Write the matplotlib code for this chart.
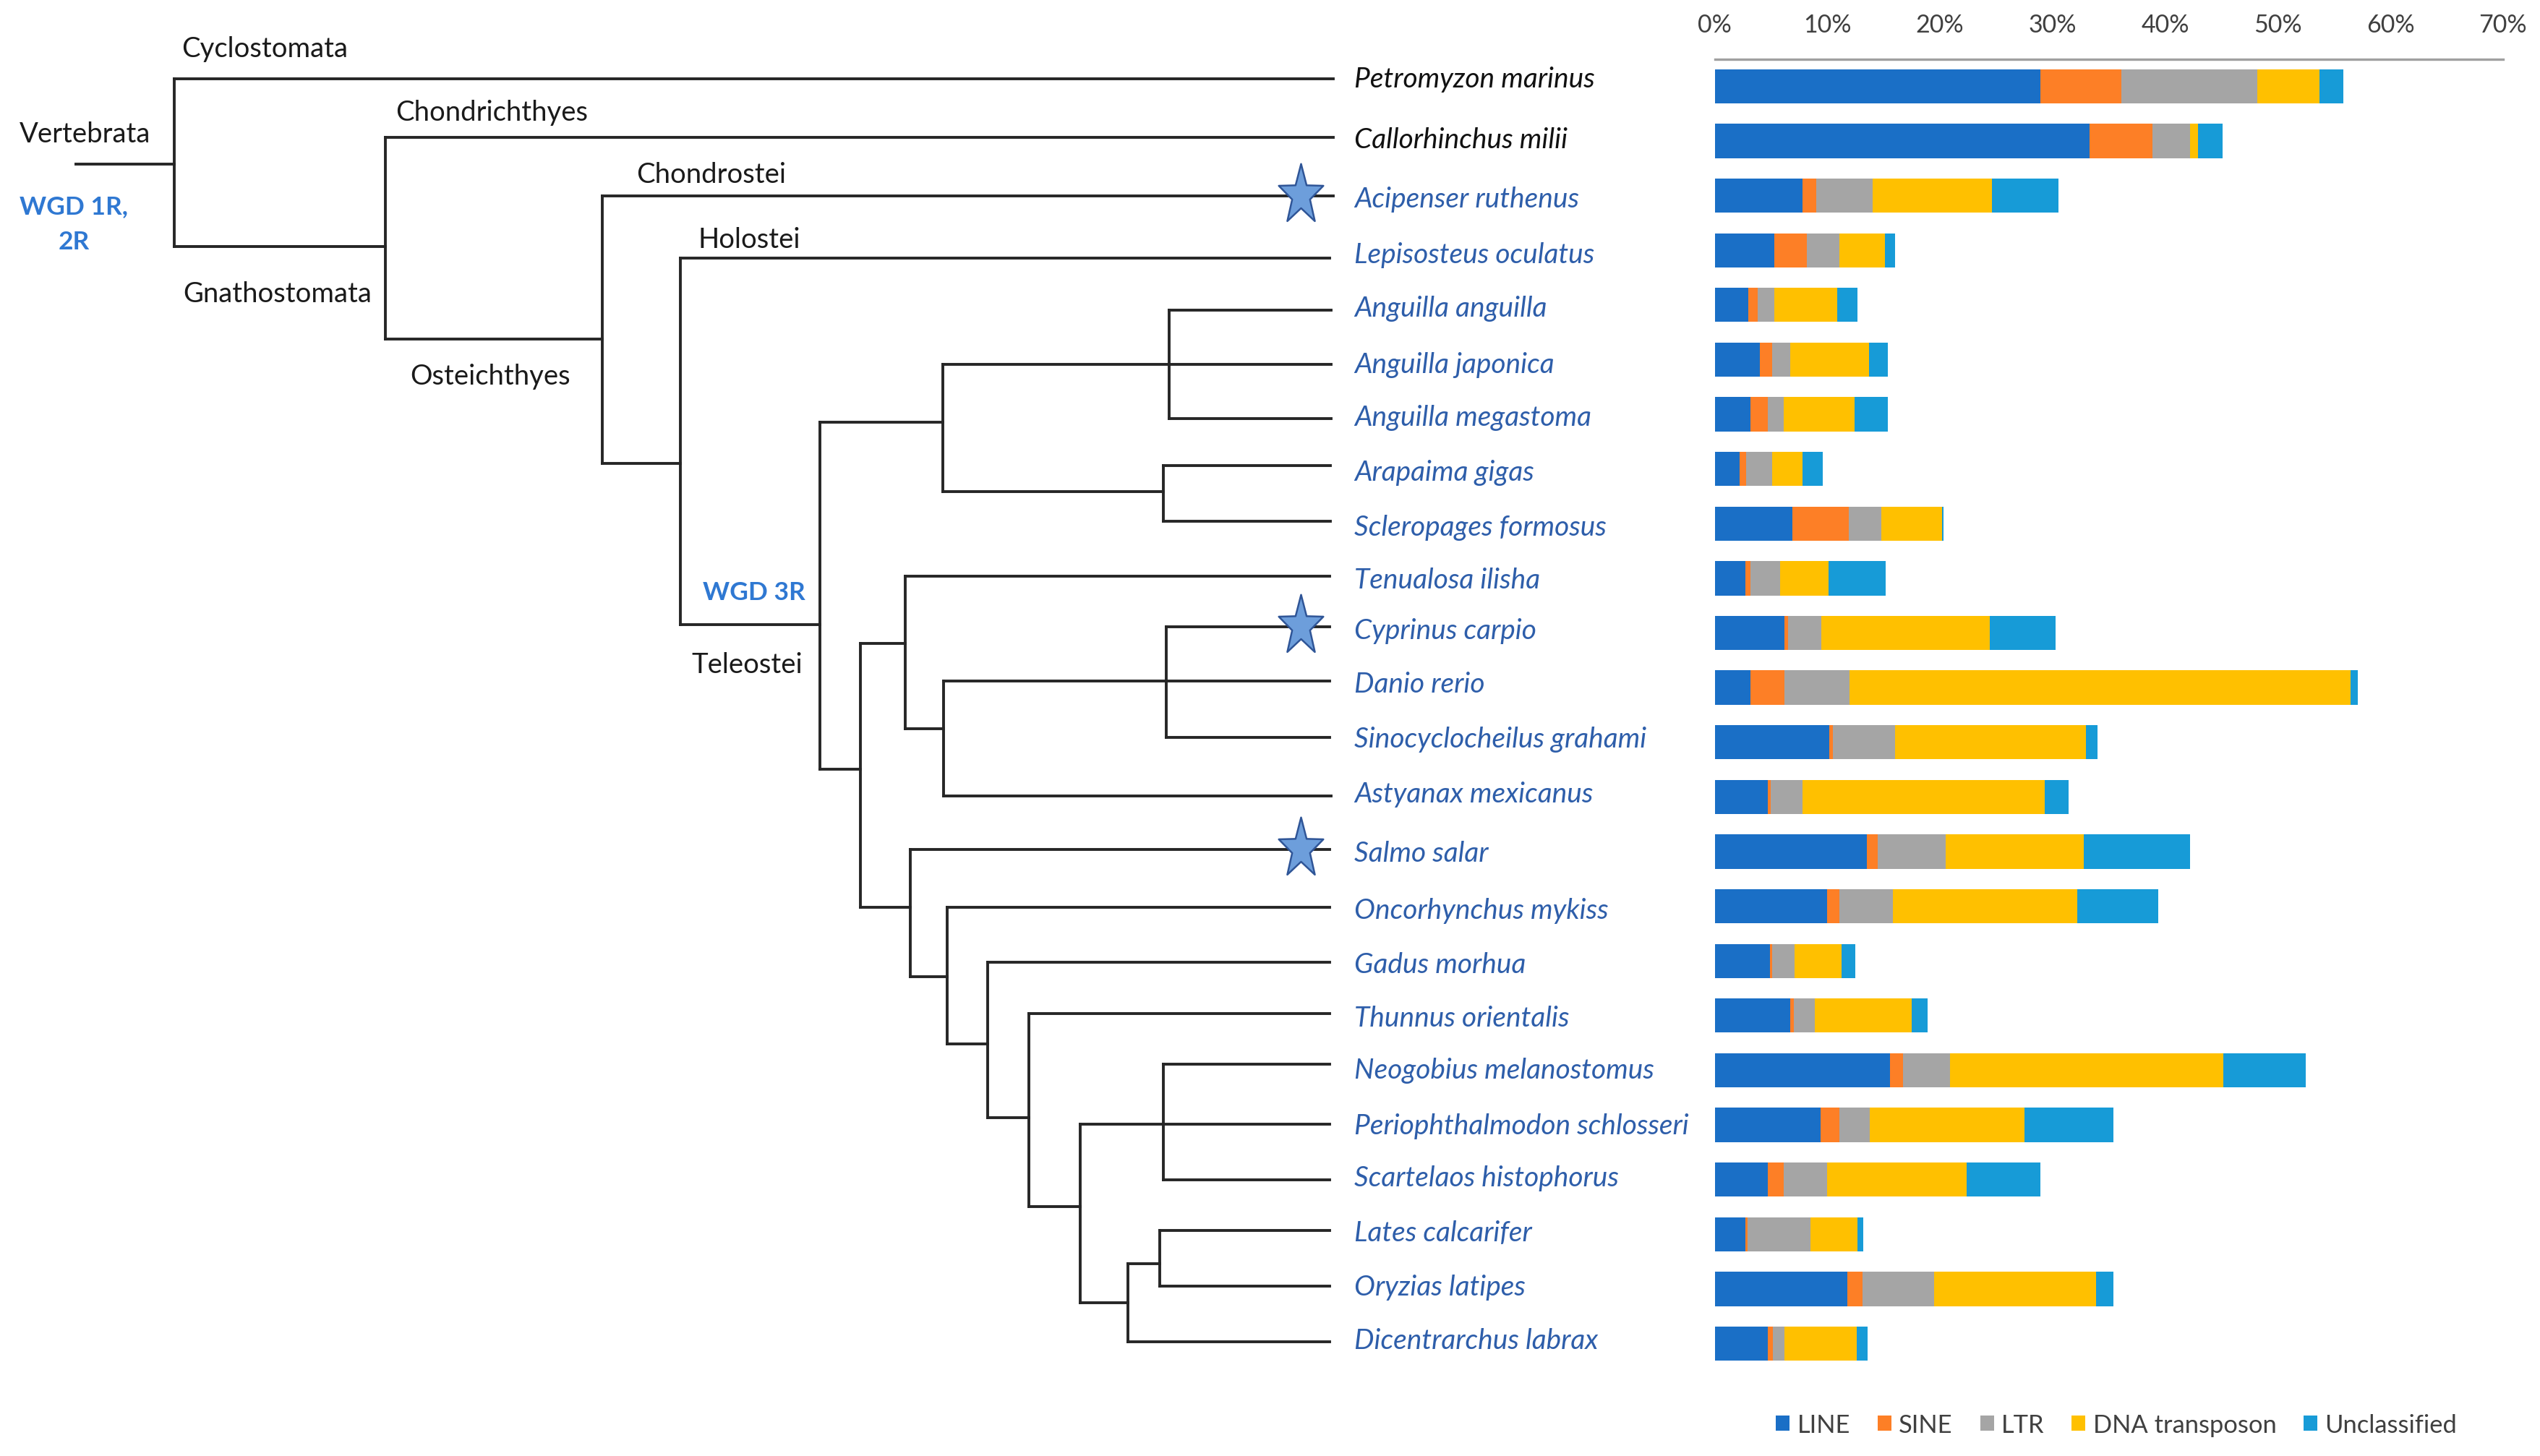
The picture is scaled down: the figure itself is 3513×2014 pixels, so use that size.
import numpy as np
import matplotlib.pyplot as plt
from matplotlib.path import Path

plt.rcParams['font.family'] = ['Lato', 'DejaVu Sans']

# repeat content (% of genome) per species
species = ['Petromyzon marinus', 'Callorhinchus milii', 'Acipenser ruthenus',
           'Lepisosteus oculatus', 'Anguilla anguilla', 'Anguilla japonica',
           'Anguilla megastoma', 'Arapaima gigas', 'Scleropages formosus',
           'Tenualosa ilisha', 'Cyprinus carpio', 'Danio rerio',
           'Sinocyclocheilus grahami', 'Astyanax mexicanus', 'Salmo salar',
           'Oncorhynchus mykiss', 'Gadus morhua', 'Thunnus orientalis',
           'Neogobius melanostomus', 'Periophthalmodon schlosseri',
           'Scartelaos histophorus', 'Lates calcarifer', 'Oryzias latipes',
           'Dicentrarchus labrax']
line_pct = [28.9, 33.3, 7.8, 5.3, 3.0, 4.0, 3.2, 2.2, 6.9, 2.7, 6.2, 3.2,
            10.2, 4.7, 13.5, 10.0, 4.9, 6.7, 15.6, 9.4, 4.7, 2.7, 11.8, 4.7]
sine_pct = [7.2, 5.6, 1.2, 2.9, 0.8, 1.1, 1.5, 0.6, 5.0, 0.5, 0.3, 3.0,
            0.3, 0.3, 1.0, 1.1, 0.2, 0.3, 1.1, 1.7, 1.4, 0.2, 1.3, 0.5]
ltr_pct = [12.1, 3.3, 5.0, 2.9, 1.5, 1.6, 1.4, 2.3, 2.9, 2.6, 3.0, 5.8,
           5.5, 2.8, 6.0, 4.7, 2.0, 1.9, 4.2, 2.7, 3.9, 5.6, 6.4, 1.0]
dna_pct = [5.5, 0.7, 10.6, 4.0, 5.6, 7.0, 6.3, 2.7, 5.4, 4.3, 14.9, 44.5,
           17.0, 21.5, 12.3, 16.4, 4.2, 8.6, 24.3, 13.7, 12.4, 4.2, 14.4, 6.4]
uncl_pct = [2.1, 2.2, 5.9, 0.9, 1.8, 1.7, 3.0, 1.8, 0.1, 5.1, 5.9, 0.6,
            1.0, 2.1, 9.4, 7.2, 1.2, 1.4, 7.3, 7.9, 6.5, 0.5, 1.5, 1.0]
classes = ['LINE', 'SINE', 'LTR', 'DNA transposon', 'Unclassified']
colors = ['#1A6FC6', '#FD7F26', '#A5A5A5', '#FFC000', '#179BD7']
ticks = [0, 10, 20, 30, 40, 50, 60, 70]
tick_labels = ['0%', '10%', '20%', '30%', '40%', '50%', '60%', '70%']
starred = ['Acipenser ruthenus', 'Cyprinus carpio', 'Salmo salar']

# layout units: reference pixels / S
S = 2.2405
W, H = 3513 / S, 2015 / S

# tip heights of the tree, one per species
tip_y = [48.9, 85.4, 121.6, 159.8, 191.9, 225.4, 258.9, 288, 322.3, 356,
         387.5, 421, 455.7, 492, 525, 560.6, 594.4, 626.3, 657.3, 694.3,
         729, 760, 794.5, 829]
label_y = [49, 86.5, 123, 157.5, 190.5, 225.5, 258, 292, 326, 358.5,
           389.5, 422.5, 456.5, 490.5, 527, 562.5, 596, 629, 661, 695.5,
           727.5, 761.5, 795, 828]

# tree branches: horizontal (y, x0, x1) and vertical (x, y0, y1)
hseg = [(101.8, 47, 107.5), (48.9, 107.5, 823), (152.6, 107.5, 238),
        (85.4, 238, 823), (209.8, 238, 372), (121.6, 372, 823),
        (286.6, 372, 420), (159.8, 420, 821), (386, 420, 506.3),
        (261.2, 506.3, 582), (191.9, 721.5, 821.7), (225.4, 582, 821.7),
        (258.9, 721.5, 821.7), (303.8, 582, 718.3), (288, 718.3, 821.3),
        (322.3, 718.3, 821.3), (475.3, 506.3, 531.3), (397.7, 531.3, 559),
        (356, 559, 821), (450.2, 559, 582.5), (421, 582.5, 821),
        (387.5, 720, 821), (455.7, 720, 821), (492, 582.5, 821.7),
        (560.6, 531.3, 562), (525, 562, 821), (603.3, 562, 584.7),
        (560.6, 584.7, 821), (645, 584.7, 609.8), (594.4, 609.8, 821),
        (690.3, 609.8, 635), (626.3, 635, 821), (745.4, 635, 666.8),
        (694.3, 666.8, 821), (657.3, 718, 821), (729, 718, 821),
        (804.8, 666.8, 696.3), (780.7, 696.3, 715.7), (760, 715.7, 821),
        (794.5, 715.7, 821), (829, 696.3, 821)]
vseg = [(107.5, 48.9, 152.6), (238, 85.4, 209.8), (372, 121.6, 286.6),
        (420, 159.8, 386), (506.3, 261.2, 475.3), (582, 225.4, 303.8),
        (721.5, 191.9, 258.9), (718.3, 288, 322.3), (531.3, 397.7, 560.6),
        (559, 356, 450.2), (582.5, 421, 492), (720, 387.5, 455.7),
        (562, 525, 603.3), (584.7, 560.6, 645), (609.8, 594.4, 690.3),
        (635, 626.3, 745.4), (666.8, 694.3, 804.8), (718, 657.3, 729),
        (696.3, 780.7, 829), (715.7, 760, 794.5)]

clades = [('Vertebrata', 12, 83), ('Cyclostomata', 112, 30.5),
          ('Chondrichthyes', 244, 69.7), ('Chondrostei', 393, 108),
          ('Holostei', 431, 148), ('Gnathostomata', 113, 181.6),
          ('Osteichthyes', 253, 232.5), ('Teleostei', 427, 410.6)]

fig = plt.figure(figsize=(35.13, 20.15), dpi=100)
tree = fig.add_axes([0, 0, 1, 1])
tree.set_xlim(0, W)
tree.set_ylim(H, 0)
tree.axis('off')

lk = dict(color='#262626', lw=2.8, solid_capstyle='projecting')
for y, x0, x1 in hseg:
    tree.plot([x0, x1], [y, y], **lk)
for x, y0, y1 in vseg:
    tree.plot([x, x], [y0, y1], **lk)

for name, x, y in clades:
    tree.text(x, y, name, fontsize=27.5, color='#1a1a1a', va='center', ha='left')
wgd = '#2F78D2'
tree.text(45.5, 127.6, 'WGD 1R,', fontsize=25.5, color=wgd, weight='bold', ha='center', va='center')
tree.text(45.5, 149.5, '2R', fontsize=25.5, color=wgd, weight='bold', ha='center', va='center')
tree.text(434, 366, 'WGD 3R', fontsize=25.5, color=wgd, weight='bold', ha='left', va='center')

for i, (name, y) in enumerate(zip(species, label_y)):
    c = '#111111' if i < 2 else '#2E5EAA'
    tree.text(836, y, name, fontsize=28, style='italic', color=c, va='center', ha='left')

# stretched five-point star like the drawn shape
ang = np.pi / 2 + np.arange(10) * np.pi / 5
rad = np.where(np.arange(10) % 2 == 0, 1.0, 0.4)
pts = np.c_[rad * np.cos(ang), 1.35 * rad * np.sin(ang)]
pts = np.vstack([pts, pts[0]])
star = Path(pts, [Path.MOVETO] + [Path.LINETO] * 9 + [Path.CLOSEPOLY])
for name in starred:
    y = tip_y[species.index(name)]
    tree.plot(803, y - 0.5, marker=star, markersize=63, color='#6D9EDB',
              markeredgecolor='#2F5597', markeredgewidth=1.8, zorder=5)

# bar chart
x0u, x1u, top = 2371.5 / S, 3461.7 / S, 37.2
ax = fig.add_axes([x0u / W, 0, (x1u - x0u) / W, 1 - top / H])
ax.set_xlim(0, 70)
ax.set_ylim(H, top)
bar_y = 53.7 + 33.75 * np.arange(len(species))
left = np.zeros(len(species))
handles = []
for vals, lab, col in zip([line_pct, sine_pct, ltr_pct, dna_pct, uncl_pct], classes, colors):
    vals = np.array(vals)
    b = ax.barh(bar_y, vals, left=left, height=21.1, color=col, label=lab)
    handles.append(b)
    left += vals

for sp in ['left', 'right', 'bottom']:
    ax.spines[sp].set_visible(False)
ax.spines['top'].set_color('#A0A0A0')
ax.spines['top'].set_linewidth(2.4)
ax.set_yticks([])
ax.set_xticks(ticks)
ax.set_xticklabels(tick_labels)
ax.xaxis.tick_top()
ax.tick_params(axis='x', length=0, pad=23, labelsize=24.5, labelcolor='#404040')
ax.patch.set_alpha(0)

ax.legend(handles, classes, loc='center', bbox_to_anchor=(0.8333, 0.0215),
          bbox_transform=fig.transFigure, ncol=5, frameon=False, fontsize=24.8,
          handlelength=0.55, handleheight=0.55, handletextpad=0.3,
          columnspacing=1.1, labelcolor='#404040')

fig.savefig('out.png', dpi=100)
